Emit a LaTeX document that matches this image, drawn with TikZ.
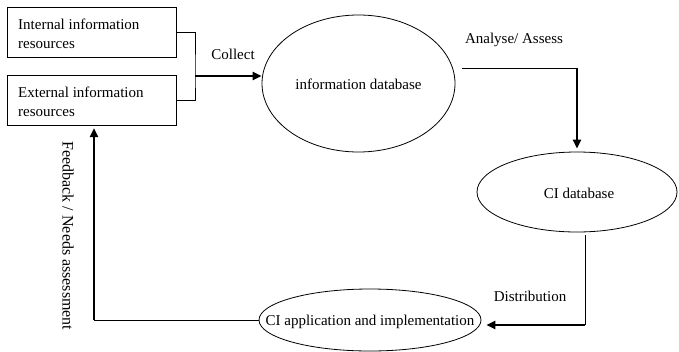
\documentclass[tikz,border=0pt]{standalone}
\usepackage{fontspec}
\setmainfont{Liberation Serif}
\usetikzlibrary{shapes.geometric,arrows.meta}
\begin{document}
\begin{tikzpicture}[x=1pt,y=-1pt,
  every node/.style={font=\fontsize{15}{19}\selectfont},
  box/.style={draw,line width=1pt,minimum width=169pt,minimum height=50pt,inner sep=0pt},
  oval/.style={draw,ellipse,line width=0.8pt,inner sep=0pt},
  thinln/.style={line width=1pt},
  thickln/.style={line width=2.4pt,-{Triangle[length=9pt,width=8pt]}},
  lbl/.style={inner sep=0pt}]
\useasboundingbox (0,0) rectangle (679,351);
\node[box] (ib) at (91.5,32) {};
\node[lbl,anchor=west,align=left] (ibt) at (18,33.5) {Internal information\\resources};
\node[box] (eb) at (91.5,100.5) {};
\node[lbl,anchor=west,align=left] (ebt) at (18,102) {External information\\resources};
\node[oval,minimum width=193pt,minimum height=137pt] (idb) at (358.5,83.5) {};
\node[lbl] (idbt) at (358.5,84) {information database};
\node[oval,minimum width=200pt,minimum height=80pt] (cidb) at (577,192) {};
\node[lbl] (cidbt) at (579,193) {CI database};
\node[oval,minimum width=222pt,minimum height=62pt] (cia) at (370,320) {};
\node[lbl] (ciat) at (370,322) {CI application and implementation};
% collect
\coordinate (jn) at (195,76);
\draw[thinln] (ib.east) -| (jn) |- (eb.east);
\draw[thickln] (jn) -- (idb.west |- jn);
\node[lbl] (col) at (233,54) {Collect};
% analyse
\coordinate (a1) at (462,68);
\coordinate (a2) at (577,68);
\draw[thinln] (a1) -- (a2);
\draw[thickln,shorten >=3pt] (a2) -- (cidb.north);
\node[lbl] (ana) at (514,40) {Analyse/ Assess};
% distribution
\coordinate (d1) at (585,325);
\draw[thinln] ([yshift=-3pt]cidb.south -| d1) -- (d1);
\draw[thickln] (d1) -- ([xshift=5pt]cia.east |- d1);
\node[lbl] (dis) at (530,296) {Distribution};
% feedback
\coordinate (f1) at (94,320);
\draw[thinln] (cia.west) -- (f1);
\draw[thickln,shorten >=2pt] (f1) -- (f1 |- eb.south);
\node[lbl,rotate=-90,font=\fontsize{16}{19}\selectfont] (fb) at (68,236) {Feedback / Needs assessment};
\end{tikzpicture}
\end{document}
